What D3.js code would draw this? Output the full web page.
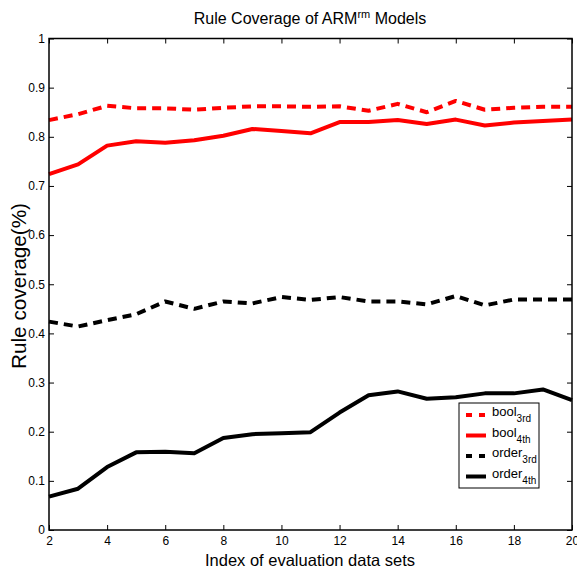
<!DOCTYPE html>
<html>
<head>
<meta charset="utf-8">
<script src="https://cdn.jsdelivr.net/npm/d3@7"></script>
<style>
  body { margin: 0; background: #fff; }
  svg { display: block; font-family: "Liberation Sans", Arial, sans-serif; }
</style>
</head>
<body>
<div id="vis"></div>
<script>
const dataSets = [2, 3, 4, 5, 6, 7, 8, 9, 10, 11, 12, 13, 14, 15, 16, 17, 18, 19, 20];
const bool3rd = [0.834, 0.846, 0.863, 0.858, 0.858, 0.855, 0.859, 0.862, 0.862, 0.861, 0.862, 0.853, 0.867, 0.850, 0.873, 0.855, 0.859, 0.861, 0.861];
const bool4th = [0.724, 0.744, 0.782, 0.791, 0.788, 0.793, 0.802, 0.816, 0.812, 0.807, 0.830, 0.830, 0.834, 0.826, 0.835, 0.823, 0.829, 0.832, 0.835];
const order3rd = [0.424, 0.414, 0.427, 0.439, 0.465, 0.450, 0.465, 0.461, 0.474, 0.468, 0.474, 0.465, 0.465, 0.459, 0.476, 0.457, 0.469, 0.469, 0.469];
const order4th = [0.068, 0.084, 0.128, 0.158, 0.159, 0.156, 0.187, 0.195, 0.197, 0.199, 0.239, 0.274, 0.282, 0.267, 0.270, 0.278, 0.278, 0.286, 0.264];
const xTicks = [2, 4, 6, 8, 10, 12, 14, 16, 18, 20];
const yTicks = [0, 0.1, 0.2, 0.3, 0.4, 0.5, 0.6, 0.7, 0.8, 0.9, 1];
const seriesNames = ["bool", "bool", "order", "order"];
const seriesSubs = ["3rd", "4th", "3rd", "4th"];

const series = [
  { name: seriesNames[0], sub: seriesSubs[0], values: bool3rd, color: "#ff0000", dash: "9,6" },
  { name: seriesNames[1], sub: seriesSubs[1], values: bool4th, color: "#ff0000", dash: null },
  { name: seriesNames[2], sub: seriesSubs[2], values: order3rd, color: "#000000", dash: "9,6" },
  { name: seriesNames[3], sub: seriesSubs[3], values: order4th, color: "#000000", dash: null }
];

const W = 577, H = 569;
const margin = { top: 38.5, right: 5, bottom: 39, left: 49 };
const width = W - margin.left - margin.right;
const height = H - margin.top - margin.bottom;

const root = d3.select("#vis").append("svg")
  .attr("width", W)
  .attr("height", H);

const svg = root.append("g")
  .attr("transform", `translate(${margin.left}, ${margin.top})`);

const x = d3.scaleLinear().domain([2, 20]).range([0, width]);
const y = d3.scaleLinear().domain([0, 1]).range([height, 0]);

// lines
const line = d3.line()
  .x((d, i) => x(dataSets[i]))
  .y(d => y(d));

series.forEach(s => {
  svg.append("path")
    .datum(s.values)
    .attr("fill", "none")
    .attr("stroke", s.color)
    .attr("stroke-width", 4)
    .attr("stroke-linejoin", "round")
    .attr("stroke-dasharray", s.dash)
    .attr("d", line);
});

// axes (matlab style: ticks inside, box on)
const tickLen = 5;
svg.append("g")
  .attr("transform", `translate(0, ${height})`)
  .call(d3.axisBottom(x).tickValues(xTicks).tickSize(-tickLen).tickPadding(6).tickFormat(d3.format("d")))
  .call(g => g.select(".domain").remove());
svg.append("g")
  .call(d3.axisTop(x).tickValues(xTicks).tickSize(-tickLen).tickFormat(""))
  .call(g => g.select(".domain").remove());
svg.append("g")
  .call(d3.axisLeft(y).tickValues(yTicks).tickSize(-tickLen).tickPadding(4).tickFormat(d => d === 0 ? "0" : d === 1 ? "1" : d3.format(".1f")(d)))
  .call(g => g.select(".domain").remove());
svg.append("g")
  .attr("transform", `translate(${width}, 0)`)
  .call(d3.axisRight(y).tickValues(yTicks).tickSize(-tickLen).tickFormat(""))
  .call(g => g.select(".domain").remove());

svg.selectAll(".tick line").attr("stroke", "#000");
svg.selectAll(".tick text").attr("font-size", "12px").attr("fill", "#000")
  .attr("font-family", "'Liberation Sans', Arial, sans-serif");

svg.append("rect")
  .attr("x", 0).attr("y", 0)
  .attr("width", width).attr("height", height)
  .attr("fill", "none")
  .attr("stroke", "#000")
  .attr("stroke-width", 1.5);

// title
const title = root.append("text")
  .attr("x", 310)
  .attr("y", 24)
  .attr("text-anchor", "middle")
  .attr("font-size", "16px");
title.append("tspan").text("Rule Coverage of ARM");
title.append("tspan").attr("font-size", "11px").attr("dy", -6).text("rm");
title.append("tspan").attr("dy", 6).text(" Models");

// axis labels
root.append("text")
  .attr("x", 310)
  .attr("y", 566)
  .attr("text-anchor", "middle")
  .attr("font-size", "16.5px")
  .text("Index of evaluation data sets");

root.append("text")
  .attr("transform", "rotate(-90)")
  .attr("x", -286)
  .attr("y", 26)
  .attr("text-anchor", "middle")
  .attr("font-size", "20px")
  .attr("textLength", 166)
  .attr("lengthAdjust", "spacingAndGlyphs")
  .attr("font-family", "'Liberation Sans', Arial, sans-serif")
  .text("Rule coverage(%)");

// legend
const lg = root.append("g").attr("transform", "translate(459, 403)");
lg.append("rect")
  .attr("width", 80).attr("height", 85)
  .attr("fill", "#fff")
  .attr("stroke", "#000")
  .attr("stroke-width", 1);

series.forEach((s, i) => {
  const cy = 12 + i * 20.5;
  lg.append("line")
    .attr("x1", 7).attr("x2", 27)
    .attr("y1", cy).attr("y2", cy)
    .attr("stroke", s.color)
    .attr("stroke-width", 4)
    .attr("stroke-dasharray", s.dash ? "6,7" : null);
  const t = lg.append("text")
    .attr("x", 33)
    .attr("y", cy + 1)
    .attr("font-size", "13px");
  t.append("tspan").text(s.name);
  t.append("tspan").attr("font-size", "10px").attr("dy", 6).text(s.sub);
});
</script>
</body>
</html>
